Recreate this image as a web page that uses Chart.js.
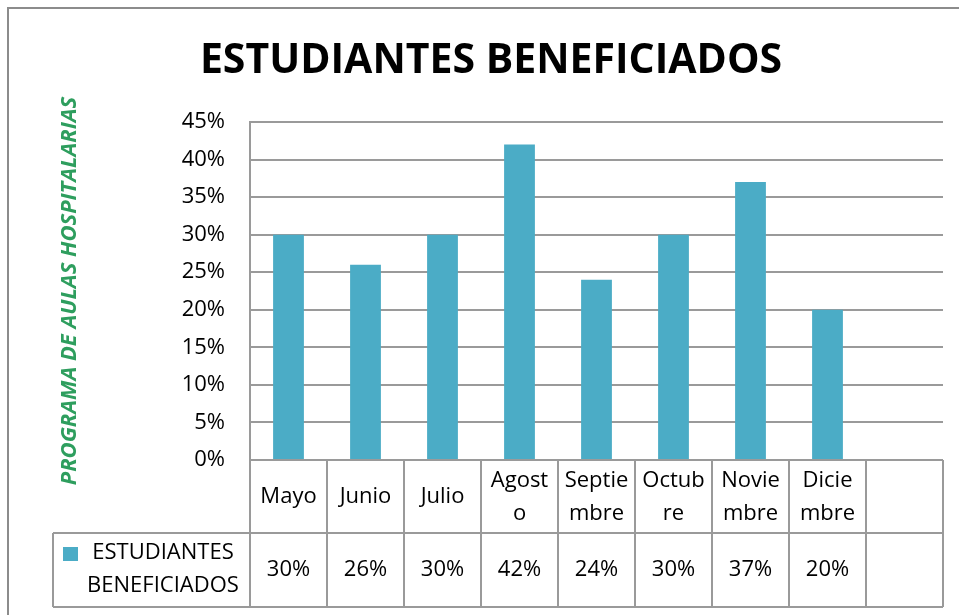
<!DOCTYPE html>
<html>
<head>
<meta charset="utf-8">
<script src="https://cdn.jsdelivr.net/npm/chart.js@4/dist/chart.umd.min.js"></script>
<style>
  html, body { margin: 0; padding: 0; background: #fff; }
</style>
</head>
<body>
<canvas id="chart" width="959" height="615"></canvas>
<script>
// Data
const categories = [['Mayo'], ['Junio'], ['Julio'], ['Agost', 'o'], ['Septie', 'mbre'], ['Octub', 're'], ['Novie', 'mbre'], ['Dicie', 'mbre'], ['']];
const values = [30, 26, 30, 42, 24, 30, 37, 20, null];
const seriesName = 'ESTUDIANTES BENEFICIADOS';
const chartTitle = 'ESTUDIANTES BENEFICIADOS';
const axisTitle = 'PROGRAMA DE AULAS HOSPITALARIAS';

const FONT = '"Open Sans", Lato, sans-serif';
const BAR = '#4BACC6';
const LINE = '#9a9a9a';

// title + frame + data table below the plot
const tablePlugin = {
    id: 'table',
    afterDraw(chart) {
        const ctx = chart.ctx;
        const a = chart.chartArea;
        const xs = chart.scales.x;
        const n = categories.length;
        const colW = (a.right - a.left) / n;
        const r1top = a.bottom, r1bot = a.bottom + 73, r2bot = r1bot + 74;
        const legLeft = 53;

        ctx.save();
        // outer frame
        ctx.strokeStyle = '#8c8c8c';
        ctx.lineWidth = 2;
        ctx.strokeRect(8, 8, 1000, 1000);

        // title
        ctx.fillStyle = '#000';
        ctx.font = 'bold 41px ' + FONT;
        ctx.textAlign = 'center';
        ctx.textBaseline = 'middle';
        ctx.fillText(chartTitle, 491, 61);

        // table grid
        ctx.strokeStyle = LINE;
        ctx.lineWidth = 2;
        ctx.beginPath();
        ctx.moveTo(a.left, r1top); ctx.lineTo(a.right, r1top);
        ctx.moveTo(legLeft, r1bot); ctx.lineTo(a.right, r1bot);
        ctx.moveTo(legLeft, r2bot); ctx.lineTo(a.right, r2bot);
        ctx.moveTo(legLeft, r1bot); ctx.lineTo(legLeft, r2bot);
        for (let i = 0; i <= n; i++) {
            const x = a.left + i * colW;
            ctx.moveTo(x, r1top); ctx.lineTo(x, r2bot);
        }
        ctx.stroke();

        // category labels and values
        ctx.fillStyle = '#000';
        ctx.font = '22px ' + FONT;
        categories.forEach((lines, i) => {
            const cx = xs.getPixelForValue(i);
            if (lines.length === 1) {
                ctx.fillText(lines[0], cx, (r1top + r1bot) / 2);
            } else {
                ctx.fillText(lines[0], cx, r1top + 21);
                ctx.fillText(lines[1], cx, r1top + 54);
            }
            if (values[i] !== null) {
                ctx.fillText(values[i] + '%', cx, (r1bot + r2bot) / 2);
            }
        });

        // legend cell
        ctx.fillStyle = BAR;
        ctx.fillRect(63, r1bot + 14, 15, 14);
        ctx.fillStyle = '#000';
        const leg = seriesName.split(' ');
        ctx.fillText(leg[0], 163, r1bot + 20);
        ctx.fillText(leg[1], 163, r1bot + 53);
        ctx.restore();
    }
};

new Chart(document.getElementById('chart'), {
    type: 'bar',
    data: {
        labels: categories,
        datasets: [{
            label: seriesName,
            data: values,
            backgroundColor: BAR,
            barPercentage: 0.4,
            categoryPercentage: 1.0
        }]
    },
    options: {
        responsive: false,
        animation: false,
        devicePixelRatio: 1,
        layout: {
            padding: { left: 0, right: 16, top: 122, bottom: 155 }
        },
        plugins: {
            legend: { display: false },
            tooltip: { enabled: false }
        },
        scales: {
            x: {
                display: false
            },
            y: {
                min: 0,
                max: 45,
                afterFit(scale) { scale.width = 250; },
                ticks: {
                    stepSize: 5,
                    padding: 25,
                    color: '#000',
                    font: { family: FONT, size: 22 },
                    callback: v => v + '%'
                },
                grid: {
                    color: LINE,
                    lineWidth: 2,
                    drawTicks: false
                },
                border: { color: LINE, width: 2 },
                title: {
                    display: true,
                    text: axisTitle,
                    color: '#2E9E5E',
                    padding: { top: 57, bottom: 0 },
                    font: { family: FONT, size: 22, weight: 'bold', style: 'italic' }
                }
            }
        }
    },
    plugins: [tablePlugin]
});
</script>
</body>
</html>
